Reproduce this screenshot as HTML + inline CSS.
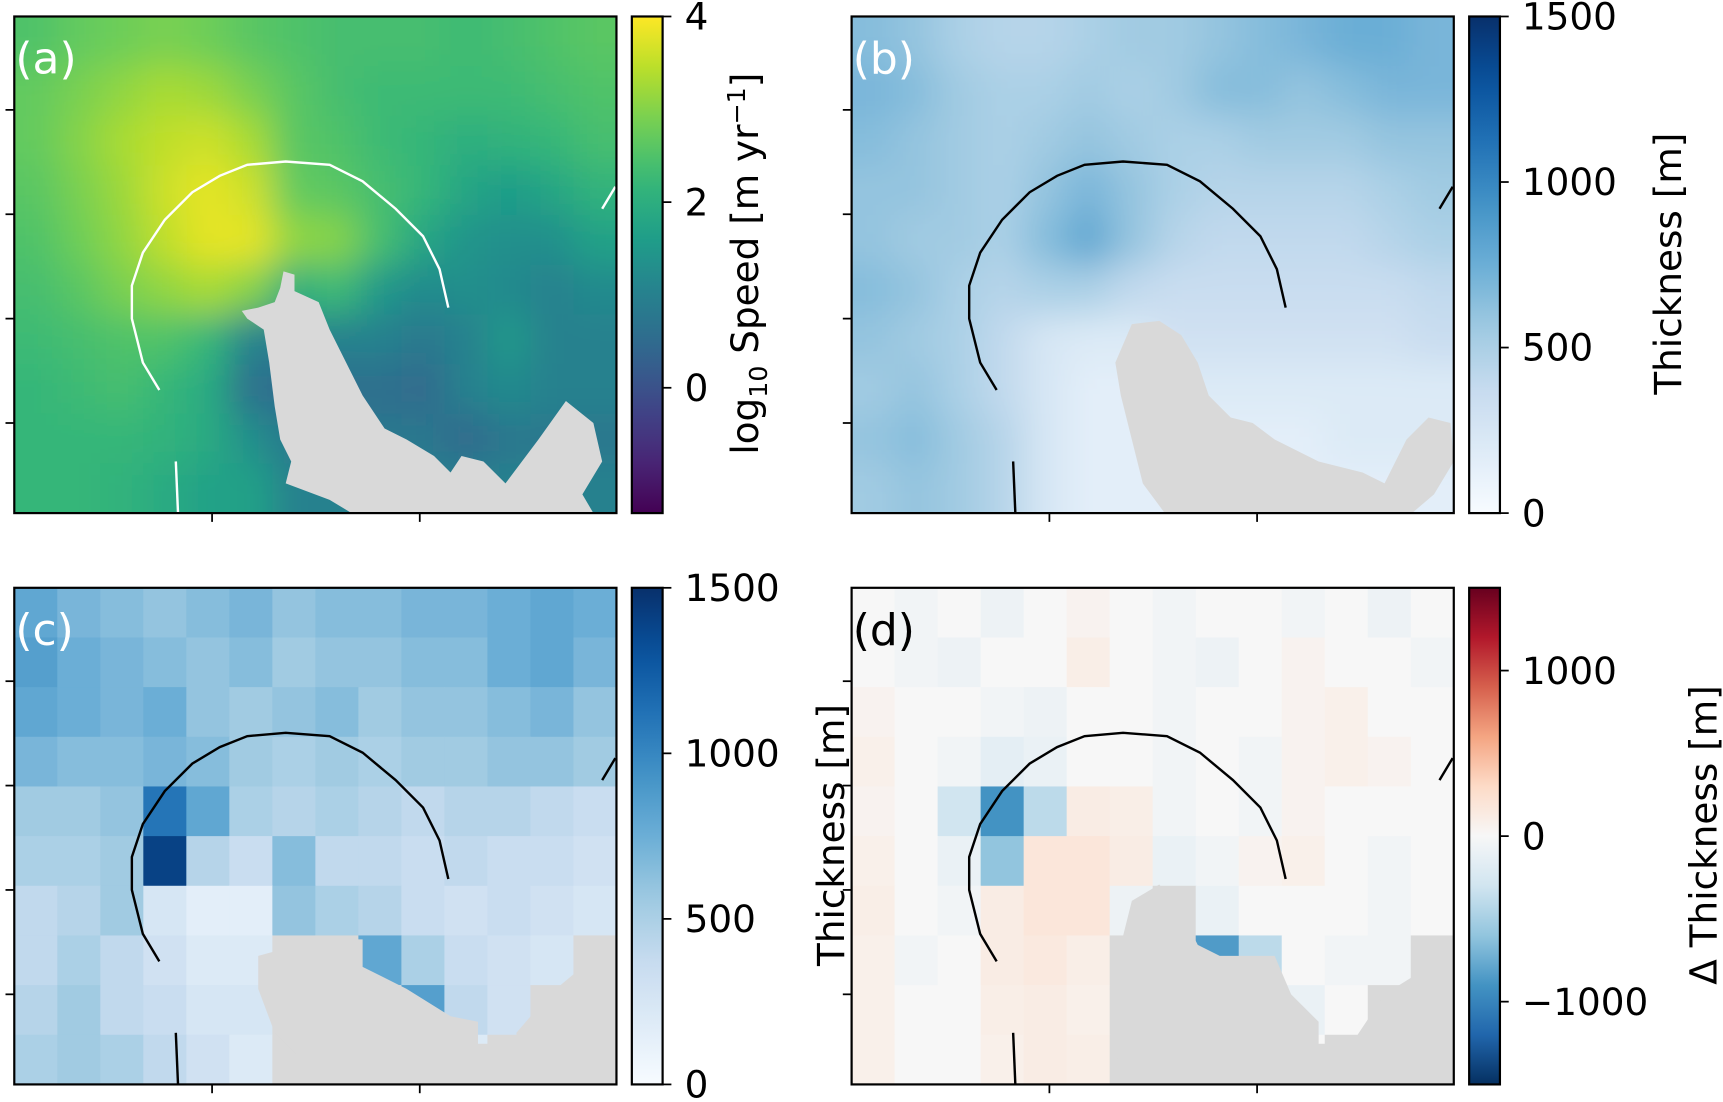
<!DOCTYPE html>
<html><head><meta charset="utf-8"><style>
html,body{margin:0;padding:0;background:#fff;width:1723px;height:1102px;overflow:hidden}
svg{display:block}
text{font-family:"DejaVu Sans","Liberation Sans",sans-serif;fill:#000}
</style></head><body>
<svg id="fig" width="1723" height="1102" viewBox="0 0 1568 1003" preserveAspectRatio="none" xmlns="http://www.w3.org/2000/svg">
<defs>
<filter id="blur" x="-20%" y="-20%" width="140%" height="140%"><feGaussianBlur stdDeviation="16"/></filter>
<clipPath id="clipA"><rect x="13" y="15" width="548" height="452"/></clipPath>
<clipPath id="clipB"><rect x="775" y="15" width="548" height="452"/></clipPath>
<clipPath id="clipC"><rect x="13" y="535" width="548" height="452"/></clipPath>
<clipPath id="clipD"><rect x="775" y="535" width="548" height="452"/></clipPath>
</defs>
</svg>
<script>
const N=null;
const speedGrid=[
[2.5,2.7,2.8,2.9,2.8,2.6,2.5,2.4,2.4,2.4,2.3,2.4,2.5,2.6],
[2.7,2.9,3.1,3.3,3.2,2.9,2.6,2.4,2.3,2.3,2.3,2.3,2.4,2.5],
[2.7,3.0,3.3,3.5,3.6,3.3,2.6,2.5,2.3,2.2,2.0,2.1,2.2,2.4],
[2.6,2.9,3.2,3.6,3.8,3.6,2.7,2.6,2.4,2.2,1.8,1.6,1.8,2.1],
[2.5,2.8,3.1,3.5,3.8,3.8,3.1,3.0,2.4,1.8,1.4,1.3,1.3,1.7],
[2.4,2.6,2.9,3.1,3.3,3.0,2.0,2.3,1.5,1.2,1.3,1.2,1.0,1.2],
[2.3,2.4,2.5,2.5,2.2,1.0,1.0,1.0,1.0,0.8,1.0,1.5,1.0,1.0],
[2.2,2.3,2.4,2.2,1.9,0.6,0.6,0.6,0.6,0.5,1.0,1.2,1.0,1.0],
[2.2,2.2,2.2,2.1,1.9,1.3,0.8,0.8,0.8,0.8,0.5,0.8,0.8,0.8],
[2.2,2.2,2.1,1.9,1.7,1.7,1.0,1.0,1.0,1.0,1.0,1.0,1.0,1.0]];
const thickGrid=[
[650,600,500,450,450,500,550,550,600,650,700,750,750,700],
[700,650,550,500,500,550,500,550,650,650,600,650,700,700],
[650,600,550,500,550,600,550,500,500,550,550,550,600,600],
[600,600,550,500,600,700,600,500,450,450,450,450,500,550],
[600,550,550,500,650,800,600,450,400,400,400,400,450,500],
[650,600,500,450,500,500,400,350,350,350,350,350,350,400],
[600,550,500,400,250,200,200,300,300,300,300,300,300,350],
[550,600,500,400,250,150,150,200,200,200,200,200,200,200],
[600,650,550,450,250,150,150,150,150,150,150,200,200,200],
[550,600,550,450,250,150,150,150,150,150,150,150,150,150]];
const coarseGrid=[
[800,700,650,600,650,700,600,650,650,700,700,750,800,750],
[850,750,700,650,600,650,550,600,600,650,650,750,800,700],
[800,750,700,750,600,550,600,650,550,600,600,650,700,600],
[700,650,650,700,650,550,500,550,500,550,550,600,600,550],
[550,550,600,1100,800,500,450,500,450,400,450,450,400,350],
[500,500,550,1400,450,350,650,400,400,350,400,350,350,300],
[400,450,550,250,150,150,600,500,450,350,300,350,300,250],
[400,500,400,300,200,200,N,N,800,500,350,300,250,N],
[450,550,400,350,250,250,N,N,N,850,400,300,N,N],
[500,550,500,400,300,200,N,N,N,N,200,N,N,N]];
const diffGrid=[
[0,-50,0,-80,0,50,0,-50,0,0,-50,0,-80,0],
[0,-50,-80,0,0,100,0,-50,-80,0,50,0,0,-50],
[50,0,0,-50,-80,0,0,-50,0,0,50,80,0,0],
[80,0,-50,-150,-100,0,0,-50,0,-50,50,80,50,0],
[50,0,-300,-900,-400,120,100,-50,0,-50,50,0,0,0],
[80,0,-100,-600,180,180,120,-100,-50,50,80,0,-50,0],
[100,0,-50,120,180,180,-80,N,-100,0,0,0,-50,0],
[80,-50,0,120,150,100,N,N,-850,-400,0,-50,-50,N],
[80,0,0,100,120,80,N,N,N,-800,-100,0,N,N],
[80,0,0,80,120,100,N,N,N,N,0,N,N,N]];
const speedTicks=[0,2,4];
const thickTicks=[0,500,1000,1500];
const diffTicks=[-1000,0,1000];
const diffTickLabels=["\u22121000","0","1000"];

const viridis=["#440154","#482878","#3e4989","#31688e","#26828e","#1f9e89","#35b779","#6ece58","#b5de2b","#fde725"];
const blues=["#f7fbff","#deebf7","#c6dbef","#9ecae1","#6baed6","#4292c6","#2171b5","#08519c","#08306b"];
const rdbu=["#053061","#2166ac","#4393c3","#92c5de","#d1e5f0","#f7f7f7","#fddbc7","#f4a582","#d6604d","#b2182b","#67001f"];
function hex(h){return [1,3,5].map(i=>parseInt(h.substr(i,2),16));}
function cmap(stops,t){t=Math.max(0,Math.min(1,t));const f=t*(stops.length-1);const i=Math.min(Math.floor(f),stops.length-2);const r=f-i;const a=hex(stops[i]),b=hex(stops[i+1]);return `rgb(${a.map((v,k)=>Math.round(v+(b[k]-v)*r)).join(',')})`;}
const NS="http://www.w3.org/2000/svg";
const svg=document.getElementById('fig');
function el(tag,attrs,parent){const e=document.createElementNS(NS,tag);for(const k in attrs)e.setAttribute(k,attrs[k]);(parent||svg).appendChild(e);return e;}

const PW=548,PH=452;
const panels=[
 {x:13,y:15,grid:speedGrid,stops:viridis,vmin:-1.35,vmax:4,blur:true,clip:'clipA',name:'panel-a-speed',line:'#fff',
  mask:"258,247 268,250 268,265 290,275 300,300 310,320 330,360 350,390 370,400 395,415 410,430 420,415 440,420 460,440 490,400 515,365 540,385 548,420 530,450 540,467 320,467 300,455 260,440 265,420 255,400 250,370 245,330 240,300 225,290 220,283 235,280 250,275 255,262"},
 {x:775,y:15,grid:thickGrid,stops:blues,vmin:0,vmax:1500,blur:true,clip:'clipB',name:'panel-b-thickness',line:'#000',
  mask:"1030,295 1055,292 1075,305 1090,330 1100,360 1120,380 1140,385 1160,400 1180,410 1200,420 1240,430 1260,440 1280,400 1300,380 1320,385 1323,420 1305,450 1285,467 1060,467 1040,440 1030,400 1020,360 1015,330"},
 {x:13,y:535,grid:coarseGrid,stops:blues,vmin:0,vmax:1500,blur:false,clip:'clipC',name:'panel-c-coarse-thickness',line:'#000',
  mask:"235,870 290,855 330,855 330,880 370,900 410,925 435,930 435,950 470,950 470,940 500,905 530,880 545,880 545,855 561,855 561,987 270,987 270,960 250,940 235,900"},
 {x:775,y:535,grid:diffGrid,stops:rdbu,vmin:-1500,vmax:1500,blur:false,clip:'clipD',name:'panel-d-thickness-difference',line:'#000',
  mask:"1030,820 1055,805 1075,830 1090,860 1110,870 1160,870 1175,905 1200,930 1200,950 1230,950 1260,905 1300,880 1323,880 1323,987 1030,987 1015,960 1010,900 1020,860"}
];
const arc=[[145,355],[130,330],[120,290],[120,260],[130,230],[150,200],[175,175],[200,160],[225,150],[260,147],[300,150],[330,165],[360,190],[385,215],[400,245],[408,280]];
panels.forEach((p,pi)=>{
  const g=el('g',{'clip-path':`url(#${p.clip})`});
  
  
  const inner=el('g',p.blur?{filter:'url(#blur)'}:{},g);
  const rows=p.grid.length,cols=p.grid[0].length,cw=PW/cols,ch=PH/rows;
  const pad=p.blur?60:0;
  p.grid.forEach((row,r)=>row.forEach((v,c)=>{
    let x0=p.x+c*cw,y0=p.y+r*ch,w=cw+0.6,h=ch+0.6;
    if(c===0){x0-=pad;w+=pad;} if(c===cols-1){w+=pad;}
    if(r===0){y0-=pad;h+=pad;} if(r===rows-1){h+=pad;}
    const cell=el('rect',{x:x0,y:y0,width:w,height:h,fill:v===null?'#d9d9d9':cmap(p.stops,(v-p.vmin)/(p.vmax-p.vmin))},inner);
    
    
  }));
  const m=el('polygon',{points:p.mask,fill:'#d9d9d9'},g);
  
  
  const dx=p.x-13,dy=p.y-15;
  const pts=arc.map(a=>`${a[0]+dx},${a[1]+dy}`).join(' ');
  const ln=el('polyline',{points:pts,fill:'none',stroke:p.line,'stroke-width':2.2},g);
  
  
  el('polyline',{points:`${160+dx},${420+dy} ${162+dx},${467+dy}`,fill:'none',stroke:p.line,'stroke-width':2.2},g);
  el('polyline',{points:`${548+dx},${190+dy} ${560+dx},${170+dy}`,fill:'none',stroke:p.line,'stroke-width':2.2},g);
  const fr=el('rect',{x:p.x,y:p.y,width:PW,height:PH,fill:'none',stroke:'#000','stroke-width':2});
  
  
  [85,180,275,370].forEach(t=>el('line',{x1:p.x-8,x2:p.x,y1:p.y+t,y2:p.y+t,stroke:'#000','stroke-width':1.6}));
  [180,369].forEach(t=>el('line',{x1:p.x+t,x2:p.x+t,y1:p.y+PH,y2:p.y+PH+8,stroke:'#000','stroke-width':1.6}));
  const lbl=el('text',{x:p.x+1,y:p.y+52,'font-size':40,style:`fill:${pi==3?'#000':'#fff'}`});
  lbl.textContent='('+'abcd'[pi]+')';
  
  
});

const cbars=[
 {x:575,y:15,stops:viridis,vmin:-1.35,vmax:4,ticks:speedTicks,labels:speedTicks.map(String),name:'speed-colorbar',title:null,tx:690,ty:240},
 {x:1337,y:15,stops:blues,vmin:0,vmax:1500,ticks:thickTicks,labels:thickTicks.map(String),name:'thickness-colorbar-b',title:'Thickness [m]',tx:1530,ty:240},
 {x:575,y:535,stops:blues,vmin:0,vmax:1500,ticks:thickTicks,labels:thickTicks.map(String),name:'thickness-colorbar-c',title:'Thickness [m]',tx:768,ty:760},
 {x:1337,y:535,stops:rdbu,vmin:-1500,vmax:1500,ticks:diffTicks,labels:diffTickLabels,name:'difference-colorbar',title:'\u0394 Thickness [m]',tx:1562,ty:760}
];
const defs=svg.querySelector('defs');
cbars.forEach((cb,i)=>{
  const gr=el('linearGradient',{id:'cg'+i,x1:0,y1:1,x2:0,y2:0},defs);
  for(let k=0;k<=20;k++)el('stop',{offset:k/20,'stop-color':cmap(cb.stops,k/20)},gr);
  const r=el('rect',{x:cb.x,y:cb.y,width:28,height:PH,fill:`url(#cg${i})`,stroke:'#000','stroke-width':2});
  
  
  cb.ticks.forEach((t,k)=>{
    const yy=cb.y+PH-(t-cb.vmin)/(cb.vmax-cb.vmin)*PH;
    el('line',{x1:cb.x+28,x2:cb.x+36,y1:yy,y2:yy,stroke:'#000','stroke-width':1.6});
    const tl=el('text',{x:cb.x+48,y:yy+12,'font-size':34});
    tl.textContent=cb.labels[k];
    
    
  });
  const tt=el('text',{x:0,y:0,'font-size':34,'text-anchor':'middle',transform:`translate(${cb.tx},${cb.ty}) rotate(-90)`});
  if(cb.title===null){
    tt.innerHTML='log<tspan font-size="23" dy="8">10</tspan><tspan dy="-8"> Speed [m yr</tspan><tspan font-size="23" dy="-12">\u22121</tspan><tspan dy="12">]</tspan>';
  } else tt.textContent=cb.title;
  
  
});
</script>
</body></html>
